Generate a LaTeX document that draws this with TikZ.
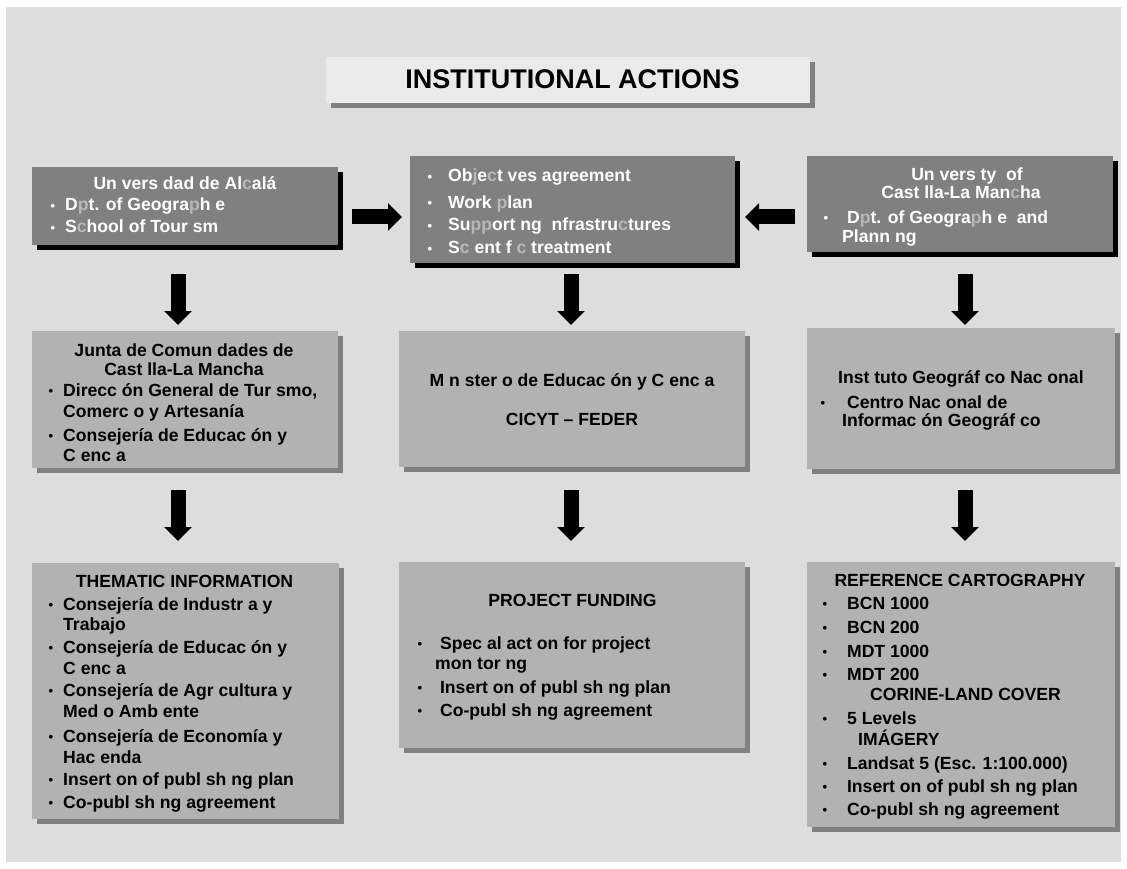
\documentclass[tikz,border=0pt]{standalone}
\usepackage{fontspec}
\setmainfont{Liberation Sans}
\usetikzlibrary{shadows,arrows.meta}
\definecolor{bgc}{HTML}{DDDDDD}
\definecolor{titlefill}{HTML}{EAEAEA}
\definecolor{darkfill}{HTML}{808080}
\definecolor{lightfill}{HTML}{B2B2B2}
\definecolor{faint}{HTML}{B8B8B8}
\newcommand\fl[1]{\textcolor{faint}{#1}}
\newcommand\bu[1][10pt]{\llap{\raisebox{0.5pt}{\fontsize{13}{13}\selectfont •}\hspace{#1}}}
\tikzset{
  darkbox/.style={fill=darkfill, draw=none, inner sep=0pt, anchor=north west,
    drop shadow={shadow xshift=5pt, shadow yshift=-5pt, fill=black, opacity=1}},
  lightbox/.style={fill=lightfill, draw=none, inner sep=0pt, anchor=north west,
    drop shadow={shadow xshift=5pt, shadow yshift=-5pt, fill=darkfill, opacity=1}},
  titlebox/.style={fill=titlefill, draw=none, inner sep=0pt, anchor=north west,
    drop shadow={shadow xshift=5pt, shadow yshift=-5pt, fill=darkfill, opacity=1}},
  txt/.style={font=\fontsize{17.6}{20}\selectfont\bfseries, inner sep=0pt, anchor=base west},
  ctxt/.style={txt, anchor=base},
  wtxt/.style={txt, text=white},
  wctxt/.style={ctxt, text=white},
  blockarrow/.style={line width=15pt, line cap=butt, -{Triangle[width=27pt,length=14pt]}},
}
\begin{document}
\begin{tikzpicture}[x=1pt,y=-1pt]
\useasboundingbox (0,0) rectangle (1127,869);
\fill[white] (0,0) rectangle (1127,869);
\fill[bgc] (6,7) rectangle (1121,862);

% title
\node[titlebox, minimum width=484pt, minimum height=46pt] (title) at (326,57) {};
\node[txt, anchor=base, font=\fontsize{27}{30}\selectfont\bfseries] (titletext) at (572.5,89) {INSTITUTIONAL ACTIONS};

% row 1
\node[darkbox, minimum width=306pt, minimum height=78pt] (uah) at (32,167) {};
\node[wctxt] (uah1) at (185,190) {Un vers dad de Al\fl{c}alá};
\node[wtxt] (uah2) at (65,211) {\bu D\fl{p}t. of Geogra\fl{p}h e};
\node[wtxt] (uah3) at (65,233) {\bu S\fl{c}hool of Tour sm};

\node[darkbox, minimum width=325pt, minimum height=107pt] (agr) at (410,156) {};
\node[wtxt] (agr1) at (443,182) {\bu[11pt] Ob\fl{j}e\fl{c}t ves agreement};
\node[wtxt] (agr2) at (443,208) {\bu[11pt] Work \fl{p}lan};
\node[wtxt] (agr3) at (443,231) {\bu[11pt] Su\fl{pp}ort ng \ nfrastru\fl{c}tures};
\node[wtxt] (agr4) at (443,254) {\bu[11pt] S\fl{c} ent f \fl{c} treatment};

\node[darkbox, minimum width=306pt, minimum height=96pt] (uclm) at (807,156) {};
\node[wctxt] (uclm1) at (967,181) {Un vers ty \ of};
\node[wctxt] (uclm2) at (961,199) {Cast lla-La Man\fl{c}ha};
\node[wtxt] (uclm3) at (842,223) {\bu[14pt] D\fl{p}t. of Geogra\fl{p}h e \ and};
\node[wtxt] (uclm4) at (842,243) {Plann ng};

% row 2
\node[lightbox, minimum width=306pt, minimum height=137pt] (junta) at (32,331) {};
\node[ctxt] (junta1) at (184,356) {Junta de Comun dades de};
\node[ctxt] (junta2) at (184,375) {Cast lla-La Mancha};
\node[txt] (junta3) at (63,396) {\bu Direcc ón General de Tur smo,};
\node[txt] (junta4) at (63,417) {Comerc o y Artesanía};
\node[txt] (junta5) at (63,441) {\bu Consejería de Educac ón y};
\node[txt] (junta6) at (63,461) {C enc a};

\node[lightbox, minimum width=346pt, minimum height=136pt] (mec) at (399,331) {};
\node[ctxt] (mec1) at (572,386) {M n ster o de Educac ón y C enc a};
\node[ctxt] (mec2) at (572,425) {CICYT – FEDER};

\node[lightbox, minimum width=308pt, minimum height=141pt] (ign) at (807,328) {};
\node[txt] (ign1) at (838,383) {Inst tuto Geográf co Nac onal};
\node[txt] (ign2) at (842,408) {\bu[17pt] Centro Nac onal de};
\node[txt] (ign3) at (842,426) {Informac ón Geográf co};

% row 3
\node[lightbox, minimum width=307pt, minimum height=256pt] (them) at (32,563) {};
\node[ctxt] (them0) at (184.5,587) {THEMATIC INFORMATION};
\node[txt] (them1) at (63,610) {\bu Consejería de Industr a y};
\node[txt] (them2) at (63,630) {Trabajo};
\node[txt] (them3) at (63,653) {\bu Consejería de Educac ón y};
\node[txt] (them4) at (63,674) {C enc a};
\node[txt] (them5) at (63,696) {\bu Consejería de Agr cultura y};
\node[txt] (them6) at (63,717) {Med o Amb ente};
\node[txt] (them7) at (63,742) {\bu Consejería de Economía y};
\node[txt] (them8) at (63,763) {Hac enda};
\node[txt] (them9) at (63,785) {\bu Insert on of publ sh ng plan};
\node[txt] (them10) at (63,808) {\bu Co-publ sh ng agreement};

\node[lightbox, minimum width=346pt, minimum height=186pt] (fund) at (399,562) {};
\node[ctxt] (fund0) at (572.5,606) {PROJECT FUNDING};
\node[txt] (fund1) at (435,649) {\bu[13pt] Spec al act on for project};
\node[txt] (fund2) at (435,669) {mon tor ng};
\node[txt] (fund3) at (435,693) {\bu[13pt] Insert on of publ sh ng plan};
\node[txt] (fund4) at (435,716) {\bu[13pt] Co-publ sh ng agreement};

\node[lightbox, minimum width=308pt, minimum height=265pt] (cart) at (807,562) {};
\node[ctxt] (cart0) at (960,586) {REFERENCE CARTOGRAPHY};
\node[txt] (cart1) at (842,609) {\bu[15pt] BCN 1000};
\node[txt] (cart2) at (842,633) {\bu[15pt] BCN 200};
\node[txt] (cart3) at (842,657) {\bu[15pt] MDT 1000};
\node[txt] (cart4) at (842,680) {\bu[15pt] MDT 200};
\node[txt] (cart5) at (870,700) {CORINE-LAND COVER};
\node[txt] (cart6) at (842,724) {\bu[15pt] 5 Levels};
\node[txt] (cart7) at (858,745) {IMÁGERY};
\node[txt] (cart8) at (842,769) {\bu[15pt] Landsat 5 (Esc. 1:100.000)};
\node[txt] (cart9) at (842,792) {\bu[15pt] Insert on of publ sh ng plan};
\node[txt] (cart10) at (842,815) {\bu[15pt] Co-publ sh ng agreement};

% arrow end points
\coordinate (hl1) at (352,217); \coordinate (hl2) at (402,217);
\coordinate (hr1) at (795,217); \coordinate (hr2) at (745,217);
\coordinate (dl1) at (178,274); \coordinate (dl2) at (178,325);
\coordinate (dm1) at (571,274); \coordinate (dm2) at (571,325);
\coordinate (dr1) at (965,274); \coordinate (dr2) at (965,325);
\coordinate (el1) at (178,490); \coordinate (el2) at (178,541);
\coordinate (em1) at (571,490); \coordinate (em2) at (571,541);
\coordinate (er1) at (965,490); \coordinate (er2) at (965,541);

\draw[blockarrow] (hl1) -- (hl2);
\draw[blockarrow] (hr1) -- (hr2);
\draw[blockarrow] (dl1) -- (dl2);
\draw[blockarrow] (dm1) -- (dm2);
\draw[blockarrow] (dr1) -- (dr2);
\draw[blockarrow] (el1) -- (el2);
\draw[blockarrow] (em1) -- (em2);
\draw[blockarrow] (er1) -- (er2);
\end{tikzpicture}
\end{document}
